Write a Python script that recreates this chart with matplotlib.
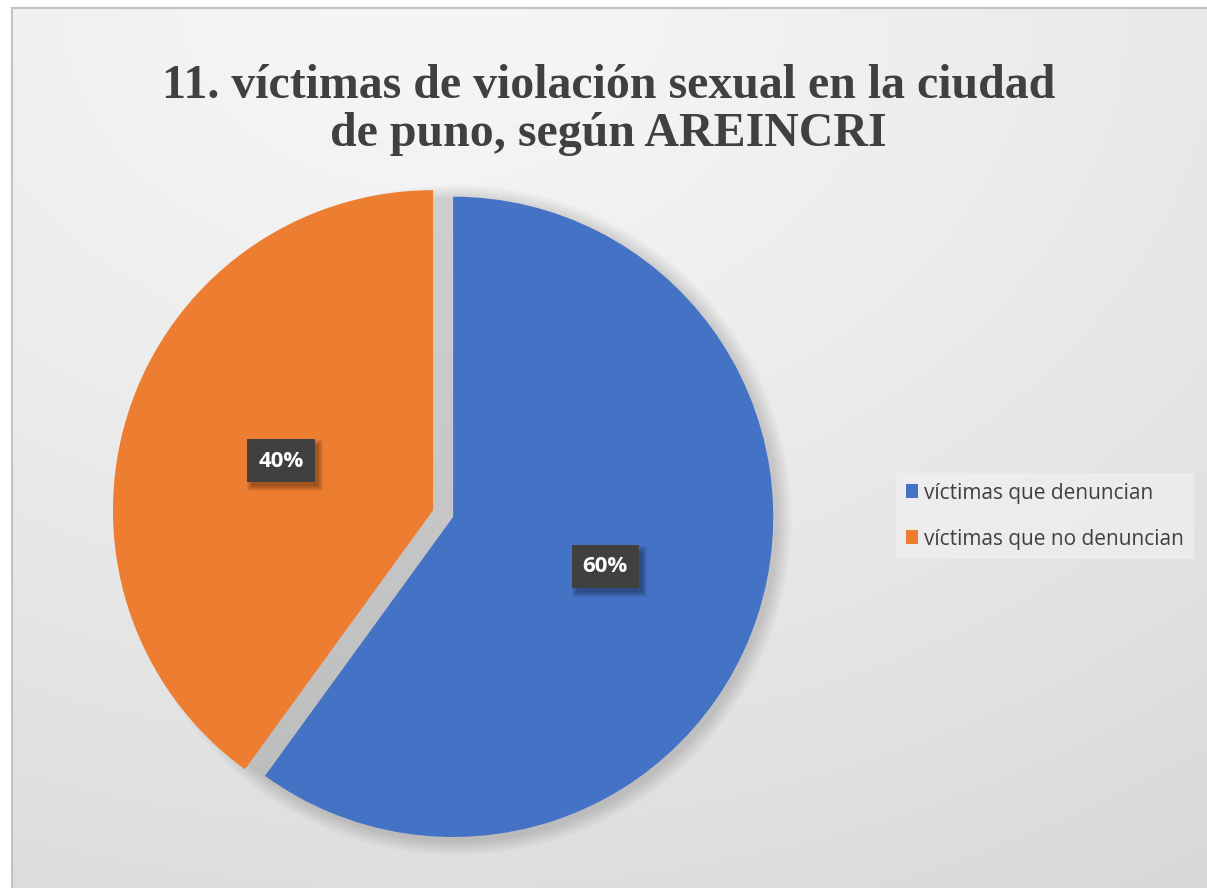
import numpy as np
import matplotlib
matplotlib.use("Agg")
import matplotlib.pyplot as plt
from matplotlib.patches import Rectangle
from matplotlib.transforms import IdentityTransform

# ---- data ----
title = "11. víctimas de violación sexual en la ciudad\nde puno, según AREINCRI"
categories = ["víctimas que denuncian", "víctimas que no denuncian"]
values = [60, 40]
colors = ["#4472C4", "#ED7D31"]

W, H = 1207, 888
fig = plt.figure(figsize=((W + 0.4) / 100, (H + 0.4) / 100), dpi=100)
fig.patch.set_facecolor("white")

# ---- background gradient inside chart frame (pixel exact) ----
x0, y0 = 11, 8  # frame left/top in px
gw, gh = W - x0, H - y0
yy, xx = np.mgrid[0:gh, 0:gw].astype(float)
xx += x0
cx = 0.35 * W
d = np.sqrt(((xx - cx) / W) ** 2 + (yy / H) ** 2)
d = d / np.sqrt(0.65 ** 2 + 1.0)
light, dark = 0.965, 0.845
img = light - (light - dark) * np.clip(d, 0, 1) ** 1.3
rgb = np.dstack([img, img, img])
fig.figimage(rgb, xo=x0, yo=0, origin="upper", zorder=-5)
# overlay strip on the right edge (keeps the edge clean)
fig.figimage(rgb[2:, -6:], xo=W - 6, yo=0, origin="upper", zorder=50)

# frame lines
fig.add_artist(plt.Line2D([(x0 + 0.5) / W] * 2, [0, 1 - y0 / H], color="#c3c3c3", lw=1.5, zorder=51))
fig.add_artist(plt.Line2D([(x0 + 0.5) / W, 1.01], [1 - y0 / H] * 2, color="#c3c3c3", lw=1.5, zorder=51))

# ---- pie axes covering whole figure (1 data unit = R px) ----
R = 320.0
pcx, pcy = 453.0, 517.0
ax = fig.add_axes([0, 0, 1, 1])
ax.patch.set_visible(False)
xl = (-pcx / R, (W - pcx) / R)
yl = (-(H - pcy) / R, pcy / R)

# soft shadow behind pie
for i in range(12):
    r = 1.0 + 0.004 * (i + 1)
    ax.add_patch(plt.Circle((0.01, -0.01), r, color="black", alpha=0.010, lw=0, zorder=1))

wedges, texts, autotexts = ax.pie(
    values, colors=colors, startangle=90, counterclock=False,
    explode=[0, 0.066], radius=1.0, center=(0, 0),
    autopct="%1.0f%%", pctdistance=0.5, frame=True,
    wedgeprops=dict(linewidth=0, zorder=2),
    textprops=dict(color="white", fontsize=16, fontweight="bold", family="Open Sans"),
)
ax.set_axis_off()
ax.set_xlim(*xl)
ax.set_ylim(*yl)
ax.set_aspect("auto")

for t in autotexts:
    t.set_zorder(6)
    t.set_bbox(dict(boxstyle="square,pad=0.5", facecolor="#404040", edgecolor="none"))

# shadows for label boxes (pixel rectangles, below the label boxes)
fig.canvas.draw()
renderer = fig.canvas.get_renderer()
for t in autotexts:
    bb = t.get_bbox_patch().get_window_extent(renderer)
    for k in range(6):
        g = 1 + k
        ax.add_artist(Rectangle((bb.x0 + 4 - g + 2, bb.y0 - 5 - g + 2),
                                bb.width + 2 * g - 4, bb.height + 2 * g - 4,
                                transform=IdentityTransform(), facecolor="black",
                                alpha=0.06, edgecolor="none", zorder=3))

# ---- title ----
fig.text(608 / W, 1 - 110 / H, title, ha="center", va="center",
         fontsize=34.5, fontweight="bold", family="Liberation Serif",
         color="#404040", linespacing=1.12)

# ---- legend ----
leg = ax.legend(wedges, categories, loc="center left",
                bbox_to_anchor=(896 / W, 1 - 516 / H), bbox_transform=fig.transFigure,
                frameon=True, fancybox=False, facecolor="#f2f2f2", edgecolor="none",
                framealpha=0.6, prop=dict(family="Open Sans", size=15),
                handlelength=0.6, handleheight=0.6, handletextpad=0.3,
                labelspacing=1.2, borderpad=0.45, borderaxespad=0)
for t in leg.get_texts():
    t.set_color("#404040")

fig.savefig("out.png", dpi=100, facecolor="white")
